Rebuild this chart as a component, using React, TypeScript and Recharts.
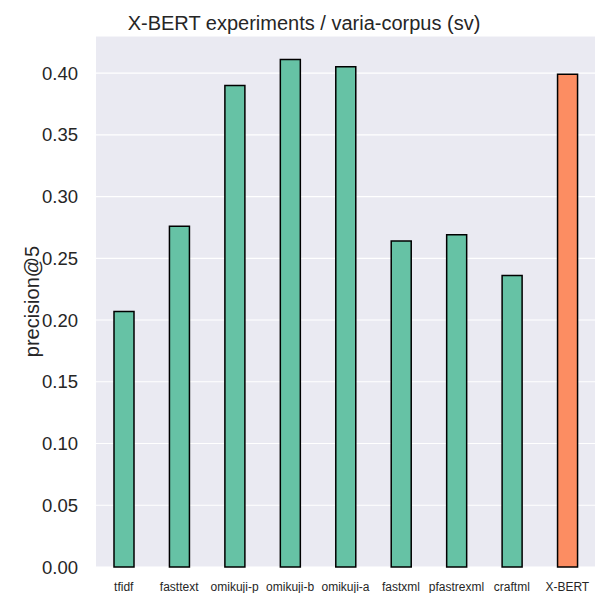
import React from "react";
import { BarChart, Bar, XAxis, YAxis, CartesianGrid, Cell } from "recharts";

const categories = ["tfidf", "fasttext", "omikuji-p", "omikuji-b", "omikuji-a", "fastxml", "pfastrexml", "craftml", "X-BERT"];
const precisionAt5 = [0.207, 0.276, 0.390, 0.411, 0.405, 0.264, 0.269, 0.236, 0.399];
const yTicks = [0, 0.05, 0.1, 0.15, 0.2, 0.25, 0.3, 0.35, 0.4];
const barColors = ["#66c2a5", "#66c2a5", "#66c2a5", "#66c2a5", "#66c2a5", "#66c2a5", "#66c2a5", "#66c2a5", "#fc8d62"];

const data = categories.map((name, i) => ({ name, value: precisionAt5[i] }));

const FONT = "'Liberation Sans', Arial, sans-serif";

export default function App() {
  return (
    <div style={{ position: "absolute", left: 0, top: 0, width: 595, height: 593, background: "#fff" }}>
      <BarChart
        width={595}
        height={593}
        data={data}
        margin={{ top: 36, right: 0, bottom: 0, left: 0 }}
        barCategoryGap={0}
      >
        <CartesianGrid vertical={false} stroke="#ffffff" strokeWidth={1.2} fill="#eaeaf2" />
        <XAxis
          dataKey="name"
          interval={0}
          axisLine={false}
          tickLine={false}
          height={26}
          tickMargin={9}
          tick={{ fontSize: 12, fill: "#262626", fontFamily: FONT }}
        />
        <YAxis
          domain={[0, 0.43]}
          ticks={yTicks}
          width={96}
          axisLine={false}
          tickLine={false}
          tickMargin={12}
          tickFormatter={(v: number) => v.toFixed(2)}
          tick={{ fontSize: 18.5, fill: "#262626", fontFamily: FONT }}
          label={{
            value: "precision@5",
            angle: -90,
            position: "insideLeft",
            dx: 27,
            style: { fontSize: 20, fill: "#262626", fontFamily: FONT, textAnchor: "middle" },
          }}
        />
        <Bar dataKey="value" barSize={20} stroke="#000" strokeWidth={1.5} isAnimationActive={false}>
          {data.map((d, i) => (
            <Cell key={d.name} fill={barColors[i]} />
          ))}
        </Bar>
        <text x={304} y={30} textAnchor="middle" style={{ fontSize: 20, fill: "#262626", fontFamily: FONT }}>
          X-BERT experiments / varia-corpus (sv)
        </text>
      </BarChart>
    </div>
  );
}
